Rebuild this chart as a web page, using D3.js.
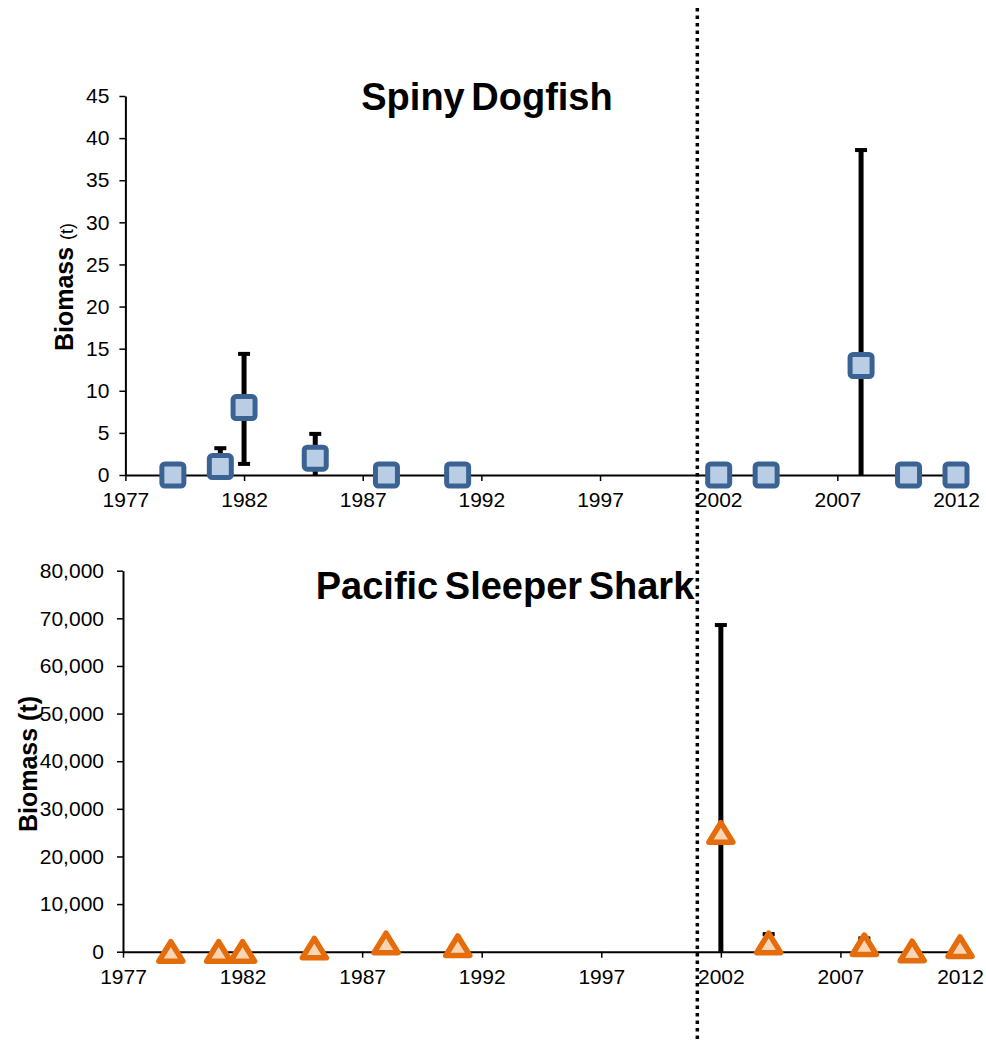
<!DOCTYPE html>
<html>
<head>
<meta charset="utf-8">
<script src="https://cdn.jsdelivr.net/npm/d3@7"></script>
<style>
  body { margin: 0; background: #fff; }
  svg { display: block; font-family: "Liberation Sans", Arial, sans-serif; }
</style>
</head>
<body>
<div id="container"></div>
<script>
let w = 986;
let h = 1040;

// survey years (same for both species)
let years = [1979, 1981, 1982, 1985, 1988, 1991, 2002, 2004, 2008, 2010, 2012];

// Spiny Dogfish biomass (t) with error limits
let dogBiomass = [0, 1, 8, 2, 0, 0, 0, 0, 13, 0, 0];
let dogLower   = [0, 0, 1.2, 0, 0, 0, 0, 0, 0, 0, 0];
let dogUpper   = [0, 3.3, 14.5, 5, 0, 0, 0, 0, 38.7, 0, 0];

// Pacific Sleeper Shark biomass (t) with error limits
let sharkBiomass = [0, 0, 0, 700, 1800, 1200, 25000, 1800, 1400, 100, 1000];
let sharkLower   = [0, 0, 0, 0, 0, 0, 0, 0, 0, 0, 0];
let sharkUpper   = [0, 0, 0, 0, 0, 0, 68800, 3900, 3000, 0, 0];

let yearTicks = [1977, 1982, 1987, 1992, 1997, 2002, 2007, 2012];
let dogTicks = [0, 5, 10, 15, 20, 25, 30, 35, 40, 45];
let sharkTicks = [0, 10000, 20000, 30000, 40000, 50000, 60000, 70000, 80000];
let breakYear = 2001.1; // dotted divider

let viz = d3.select("#container")
  .append("svg")
    .attr("width", w)
    .attr("height", h);

function panel(opts){
  let x = d3.scaleLinear().domain([1977, 2012]).range(opts.xRange);
  let y = d3.scaleLinear().domain(opts.yDomain).range(opts.yRange);
  let g = viz.append("g");

  // y axis
  let yAxis = g.append("g")
    .attr("transform", "translate(" + opts.xRange[0] + ",0)")
    .call(d3.axisLeft(y).tickValues(opts.yTicks).tickSize(6).tickPadding(opts.yPad)
      .tickFormat(opts.fmt).tickSizeOuter(0));
  // x axis
  let xAxis = g.append("g")
    .attr("transform", "translate(0," + opts.yRange[0] + ")")
    .call(d3.axisBottom(x).tickValues(yearTicks).tickSize(6).tickPadding(11)
      .tickFormat(d3.format("d")).tickSizeOuter(0));

  [yAxis, xAxis].forEach(function(a){
    a.attr("font-size", null).attr("font-family", null);
    a.select(".domain").attr("stroke", "#000").attr("stroke-width", 2);
    a.selectAll(".tick line").attr("stroke", "#000").attr("stroke-width", 1.5);
    a.selectAll(".tick text").attr("fill", "#000").style("font-size", "21px");
  });

  // title
  g.append("text")
    .attr("x", opts.titleX).attr("y", opts.titleY)
    .attr("text-anchor", "middle")
    .style("font-size", "38px").style("font-weight", "bold")
    .style("word-spacing", "-4px")
    .text(opts.title);

  // error bars
  let eb = g.selectAll(".err").data(years.map(function(d, i){
      return {year: d, lo: opts.lower[i], hi: opts.upper[i], v: opts.values[i]};
    }).filter(function(d){ return d.hi > d.v; }))
    .enter().append("g").classed("err", true);
  eb.append("line")
    .attr("x1", function(d){ return x(d.year); })
    .attr("x2", function(d){ return x(d.year); })
    .attr("y1", function(d){ return y(d.lo); })
    .attr("y2", function(d){ return y(d.hi); })
    .attr("stroke", "#000").attr("stroke-width", 5);
  eb.append("line")
    .attr("x1", function(d){ return x(d.year) - 6; })
    .attr("x2", function(d){ return x(d.year) + 6; })
    .attr("y1", function(d){ return y(d.hi) + 1; })
    .attr("y2", function(d){ return y(d.hi) + 1; })
    .attr("stroke", "#000").attr("stroke-width", 4);
  eb.filter(function(d){ return d.lo > 0; }).append("line")
    .attr("x1", function(d){ return x(d.year) - 6; })
    .attr("x2", function(d){ return x(d.year) + 6; })
    .attr("y1", function(d){ return y(d.lo) - 1; })
    .attr("y2", function(d){ return y(d.lo) - 1; })
    .attr("stroke", "#000").attr("stroke-width", 4);

  // markers
  let pts = years.map(function(d, i){ return {year: d, v: opts.values[i]}; });
  if (opts.marker == "square") {
    g.selectAll(".pt").data(pts).enter().append("rect")
      .attr("x", function(d){ return x(d.year) - 11; })
      .attr("y", function(d){ return y(d.v) - 11; })
      .attr("width", 22).attr("height", 22)
      .attr("rx", 3)
      .attr("fill", "#b9cde5")
      .attr("stroke", "#3a6293")
      .attr("stroke-width", 5);
  } else {
    g.selectAll(".pt").data(pts).enter().append("path")
      .attr("d", function(d){
        let cx = x(d.year), cy = y(d.v);
        return "M" + cx + "," + (cy - 10) + "L" + (cx + 12) + "," + (cy + 9.5) +
               "L" + (cx - 12) + "," + (cy + 9.5) + "Z";
      })
      .attr("fill", "#fcd5b5")
      .attr("stroke", "#e46c0a")
      .attr("stroke-width", 5.5)
      .attr("stroke-linejoin", "round");
  }

  // y label
  let lab = g.append("text")
    .attr("transform", "translate(" + opts.labX + "," + opts.labY + ") rotate(-90)")
    .attr("text-anchor", "middle")
    .style("font-weight", "bold");
  lab.append("tspan").style("font-size", "25px").text("Biomass ");
  lab.append("tspan").style("font-size", opts.unitSize + "px")
    .style("font-weight", opts.unitBold ? "bold" : "normal").text("(t)");

  return x;
}

let xTop = panel({
  xRange: [125.4, 956], yDomain: [0, 45], yRange: [475, 96], yPad: 10,
  yTicks: dogTicks, fmt: d3.format("d"),
  values: dogBiomass, lower: dogLower, upper: dogUpper,
  marker: "square", title: "Spiny Dogfish", titleX: 487, titleY: 110,
  labX: 73, labY: 287, unitSize: 18, unitBold: false
});

panel({
  xRange: [123, 960], yDomain: [0, 80000], yRange: [951.7, 570.7], yPad: 13,
  yTicks: sharkTicks, fmt: d3.format(","),
  values: sharkBiomass, lower: sharkLower, upper: sharkUpper,
  marker: "triangle", title: "Pacific Sleeper Shark", titleX: 505, titleY: 599,
  labX: 37, labY: 764, unitSize: 25, unitBold: true
});

// dotted divider line
viz.append("line")
  .attr("x1", xTop(breakYear)).attr("x2", xTop(breakYear))
  .attr("y1", 8).attr("y2", h)
  .attr("stroke", "#000").attr("stroke-width", 3.5)
  .attr("stroke-dasharray", "3.5,4");
</script>
</body>
</html>
